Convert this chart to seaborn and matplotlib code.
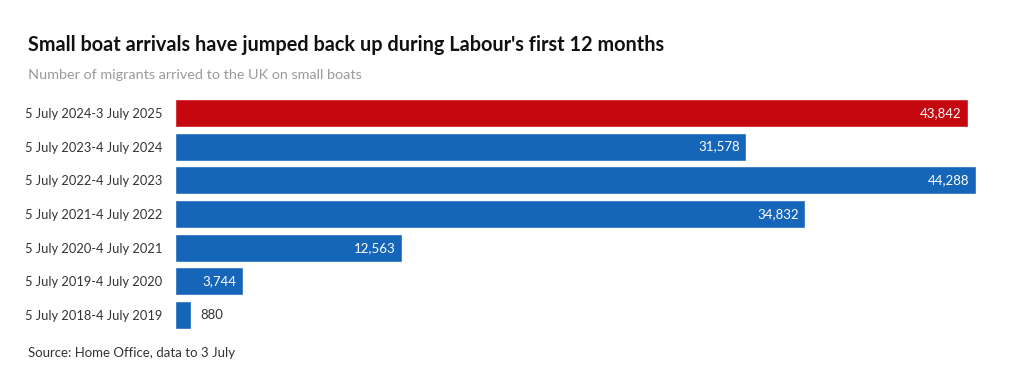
import matplotlib.pyplot as plt
import pandas as pd
import seaborn as sns

sns.set_theme(style="white")
plt.rcParams['font.family'] = ['Lato', 'DejaVu Sans']

# data
periods = ['5 July 2024-3 July 2025', '5 July 2023-4 July 2024', '5 July 2022-4 July 2023',
           '5 July 2021-4 July 2022', '5 July 2020-4 July 2021', '5 July 2019-4 July 2020',
           '5 July 2018-4 July 2019']
arrivals = [43842, 31578, 44288, 34832, 12563, 3744, 880]
highlight = ['Labour', 'other', 'other', 'other', 'other', 'other', 'other']

df = pd.DataFrame({'period': periods, 'arrivals': arrivals, 'group': highlight})
palette = {'Labour': '#c5070f', 'other': '#1565b8'}

fig = plt.figure(figsize=(10.2, 3.89), dpi=100)
ax = fig.add_axes([175 / 1020, 1 - 332 / 389, (976 - 175) / 1020, 236 / 389])

sns.barplot(data=df, x='arrivals', y='period', hue='group', palette=palette,
            dodge=False, legend=False, width=0.83, saturation=1, ax=ax)

ax.set_xlim(0, max(arrivals))
ax.set_xlabel('')
ax.set_ylabel('')
ax.set_xticks([])
for s in ax.spines.values():
    s.set_visible(False)
ax.tick_params(axis='y', length=4, color='#e6e6e6', pad=5, labelsize=9.3, labelcolor='#333333')

# value labels
for i, v in enumerate(arrivals):
    if v > 2500:
        ax.text(v - 350, i, f'{v:,}', ha='right', va='center', color='white', fontsize=9.5)
    else:
        ax.text(v + 500, i, f'{v:,}', ha='left', va='center', color='#333333', fontsize=9.5)

fig.text(28 / 1020, 1 - 45 / 389, "Small boat arrivals have jumped back up during Labour's first 12 months",
         fontsize=14.3, fontweight='bold', color='#111111', va='center')
fig.text(28 / 1020, 1 - 75 / 389, 'Number of migrants arrived to the UK on small boats',
         fontsize=10.4, color='#9a9a9a', va='center')
fig.text(28 / 1020, 1 - 353 / 389, 'Source: Home Office, data to 3 July',
         fontsize=9.5, color='#333333', va='center')

fig.savefig('out.png', dpi=100)
